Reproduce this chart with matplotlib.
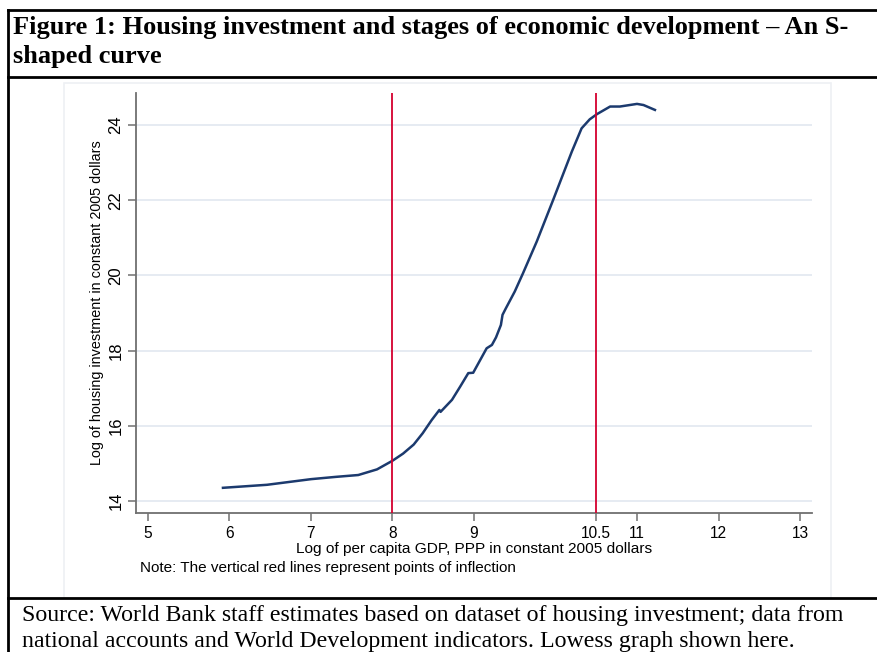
import matplotlib
matplotlib.use("Agg")
import matplotlib.pyplot as plt
from matplotlib.lines import Line2D
from matplotlib.patches import Rectangle

# lowess curve
gdp = [5.92, 6.46, 7.0, 7.3, 7.58, 7.81, 8.0, 8.13, 8.26, 8.37, 8.48, 8.575, 8.59,
       8.73, 8.83, 8.93, 8.99, 9.155, 9.22, 9.27, 9.33, 9.35, 9.39, 9.50, 9.60,
       9.77, 9.97, 10.20, 10.32, 10.42, 10.51, 10.67, 10.79, 11.0, 11.08, 11.22]
inv = [14.35, 14.43, 14.58, 14.64, 14.69, 14.84, 15.07, 15.26, 15.50, 15.80, 16.15,
       16.42, 16.37, 16.69, 17.04, 17.40, 17.41, 18.06, 18.15, 18.35, 18.68, 18.95,
       19.12, 19.57, 20.05, 20.90, 22.0, 23.29, 23.91, 24.15, 24.29, 24.49, 24.49,
       24.56, 24.53, 24.40]
inflections = [8, 10.5]
xticks = [5, 6, 7, 8, 9, 10.5, 11, 12, 13]
xticklabels = ["5", "6", "7", "8", "9", "10.5", "11", "12", "13"]
yticks = [14, 16, 18, 20, 22, 24]

W, H = 878, 652
fig = plt.figure(figsize=(W / 100, H / 100), dpi=100)
fig.patch.set_facecolor("white")

def fx(px):
    return px / W

def fy(py):
    return 1 - py / H

# Stata graph region box
fig.add_artist(Rectangle((fx(64), fy(598)), fx(831) - fx(64), fy(83) - fy(598),
                         transform=fig.transFigure, fill=False,
                         edgecolor="#eef0f4", lw=1.2))

ax = fig.add_axes([fx(136), fy(513), fx(812) - fx(136), fy(93) - fy(513)])
ax.plot(gdp, inv, color="#1c3a6e", lw=1.8, solid_joinstyle="round")
for xv in inflections:
    ax.axvline(xv, color="#d4002e", lw=1.3, zorder=3)

ax.set_xlim(4.853, 13.147)
ax.set_ylim(13.68, 24.85)
ax.set_xticks(xticks)
ax.set_xticklabels(xticklabels)
ax.set_yticks(yticks)
ax.set_yticklabels([str(v) for v in yticks], rotation=90, va="center")
ax.grid(axis="y", color="#e2e7f0", lw=1.2)
ax.set_axisbelow(True)
for s in ["top", "right"]:
    ax.spines[s].set_visible(False)
for s in ["left", "bottom"]:
    ax.spines[s].set_color("#707070")
    ax.spines[s].set_linewidth(1.3)
ax.tick_params(colors="#707070", labelcolor="black", length=6, width=1.1)
ax.tick_params(axis="x", labelsize=11.2, pad=3)
ax.tick_params(axis="y", labelsize=12, pad=3)
for lab in ax.get_xticklabels() + ax.get_yticklabels():
    lab.set_family("Liberation Sans")

ax.set_xlabel("Log of per capita GDP, PPP in constant 2005 dollars",
              family="Liberation Sans", fontsize=11.1, labelpad=1)
ax.set_ylabel("Log of housing investment in constant 2005 dollars",
              family="Liberation Sans", fontsize=10.4, labelpad=3)

fig.text(fx(140), fy(568), "Note: The vertical red lines represent points of inflection",
         family="Liberation Sans", fontsize=11, va="center", ha="left")

# document frame
black = dict(color="black", lw=2, transform=fig.transFigure)
fig.add_artist(Line2D([fx(8), 1], [fy(10), fy(10)], **black))
fig.add_artist(Line2D([fx(8), 1], [fy(77), fy(77)], **black))
fig.add_artist(Line2D([fx(8), 1], [fy(598), fy(598)], **black))
fig.add_artist(Line2D([fx(8), fx(8)], [fy(10), 0], **black))

fig.text(fx(13), fy(34),
         "Figure 1: Housing investment and stages of economic development \u2013 An S-",
         family="Liberation Serif", weight="bold", fontsize=19, va="baseline")
fig.text(fx(13), fy(63), "shaped curve",
         family="Liberation Serif", weight="bold", fontsize=19, va="baseline")

fig.text(fx(22), fy(621),
         "Source: World Bank staff estimates based on dataset of housing investment; data from",
         family="Liberation Serif", fontsize=17.2, va="baseline")
fig.text(fx(22), fy(647),
         "national accounts and World Development indicators. Lowess graph shown here.",
         family="Liberation Serif", fontsize=17.2, va="baseline")

fig.savefig("out.png", dpi=100)
